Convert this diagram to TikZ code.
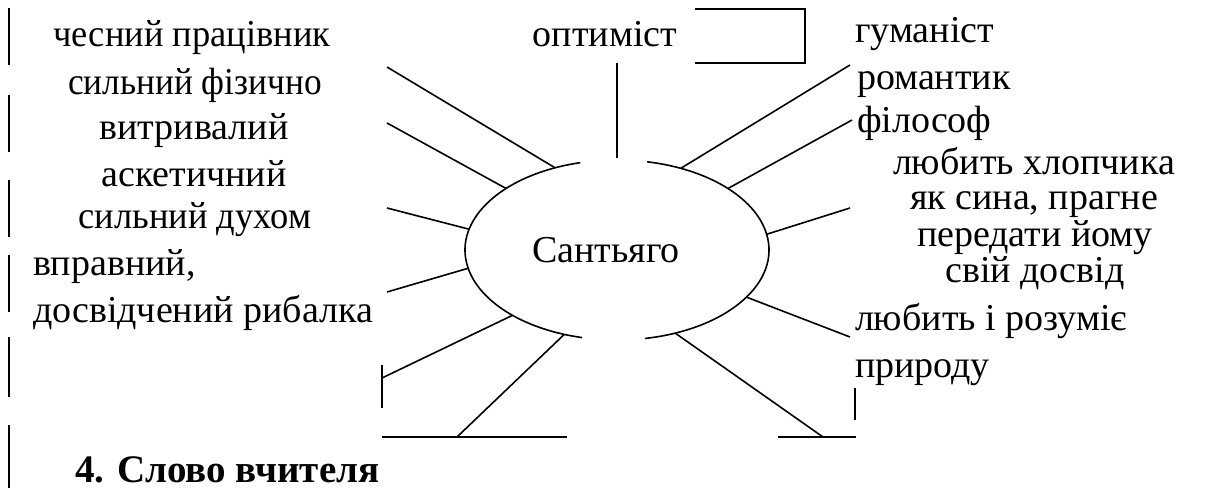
\documentclass[tikz,border=0pt]{standalone}
\usepackage{fontspec}
\setmainfont{Liberation Serif}
\usetikzlibrary{shapes.geometric}
\begin{document}
\begin{tikzpicture}[x=1pt,y=1pt,
  lbl/.style={inner sep=0pt, outer sep=0pt, font=\fontsize{38}{40}\selectfont},
  squeeze/.style={xscale=#1, transform shape},
  spoke/.style={line width=1.6pt},
  frame/.style={line width=2.2pt},
  margin/.style={line width=1.3pt}]
\useasboundingbox (0,0) rectangle (1223,488);
% central ellipse (outline drawn with gaps at top and bottom)
\node[ellipse, minimum width=304pt, minimum height=180pt, inner sep=0pt, outer sep=0pt] (s) at (617,238) {};
\node[lbl, anchor=base] (name) at (606,226) {Сантьяго};
\draw[spoke] ([shift={(617,238)}]104:152 and 90) arc[start angle=104, end angle=256.7, x radius=152, y radius=90];
\draw[spoke] ([shift={(617,238)}]-79.4:152 and 90) arc[start angle=-79.4, end angle=78.6, x radius=152, y radius=90];

% left labels
\node[lbl, anchor=base, squeeze=0.96] (l1) at (192,441) {чесний працівник};
\node[lbl, anchor=base, squeeze=0.93] (l2) at (195,393) {сильний фізично};
\node[lbl, anchor=base] (l3) at (194,348) {витривалий};
\node[lbl, anchor=base] (l4) at (194,301) {аскетичний};
\node[lbl, anchor=base, squeeze=0.96] (l5) at (195,259) {сильний духом};
\node[lbl, anchor=base west] (l6) at (33,213) {вправний,};
\node[lbl, anchor=base west] (l7) at (33,166) {досвідчений рибалка};
\node[lbl, anchor=base west, font=\fontsize{39}{41}\selectfont\bfseries] (h) at (75,6) {4. Слово вчителя};

% top label
\node[lbl, anchor=base] (opt) at (605,441) {оптиміст};

% right labels
\node[lbl, anchor=base west] (r1) at (855,445) {гуманіст};
\node[lbl, anchor=base west] (r2) at (857,398) {романтик};
\node[lbl, anchor=base west] (r3) at (857,355) {філософ};
\node[lbl, anchor=base] (r4) at (1034,313) {любить хлопчика};
\node[lbl, anchor=base] (r5) at (1034,278) {як сина, прагне};
\node[lbl, anchor=base] (r6) at (1035,241) {передати йому};
\node[lbl, anchor=base] (r7) at (1035,206) {свій досвід};
\node[lbl, anchor=base west] (r8) at (855,158) {любить і розуміє};
\node[lbl, anchor=base west] (r9) at (855,111) {природу};

% free ends of spokes
\coordinate (a1) at (387,421);
\coordinate (a2) at (387,365);
\coordinate (a3) at (387,280);
\coordinate (a4) at (387,196);
\coordinate (a5) at (382,110);
\coordinate (a6) at (457,51);
\coordinate (b1) at (850,423);
\coordinate (b2) at (852,368);
\coordinate (b3) at (850,280);
\coordinate (b4) at (850,151);
\coordinate (b5) at (823,51);

\draw[spoke] (s.127) -- (a1);
\draw[spoke] (s.151) -- (a2);
\draw[spoke] (s.172) -- (a3);
\draw[spoke] (s.187) -- (a4);
\draw[spoke] (s.212) -- (a5);
\draw[spoke] (s.238) -- (a6);
\draw[spoke] (s.52) -- (b1);
\draw[spoke] (s.29) -- (b2);
\draw[spoke] (s.6) -- (b3);
\draw[spoke] (s.-20) -- (b4);
\draw[spoke] (s.-55) -- (b5);

% optimist stem
\coordinate (o1) at (617,425);
\coordinate (o2) at (617,330);
\draw[spoke] (o1) -- (o2);

% open box top right
\coordinate (k1) at (695,479);
\coordinate (k2) at (805,479);
\coordinate (k3) at (805,425);
\coordinate (k4) at (695,425);
\draw[frame] (k1) -- (k2) -- (k3) -- (k4);

% bottom fragments
\coordinate (m1) at (382,51);
\coordinate (m2) at (567,51);
\draw[frame] (m1) -- (m2);
\coordinate (m3) at (382,123);
\coordinate (m4) at (382,80);
\draw[spoke] (m3) -- (m4);
\coordinate (n1) at (778,51);
\coordinate (n2) at (856,51);
\draw[frame] (n1) -- (n2);
\coordinate (n3) at (855,100);
\coordinate (n4) at (855,68);
\draw[frame] (n3) -- (n4);

% left margin marks
\foreach \ya/\yb [count=\i] in {480/423, 393/336, 308/251, 233/176, 151/91, 63/0} {
  \coordinate (p\i a) at (9,\ya);
  \coordinate (p\i b) at (9,\yb);
  \draw[margin] (p\i a) -- (p\i b);
}
\end{tikzpicture}
\end{document}
